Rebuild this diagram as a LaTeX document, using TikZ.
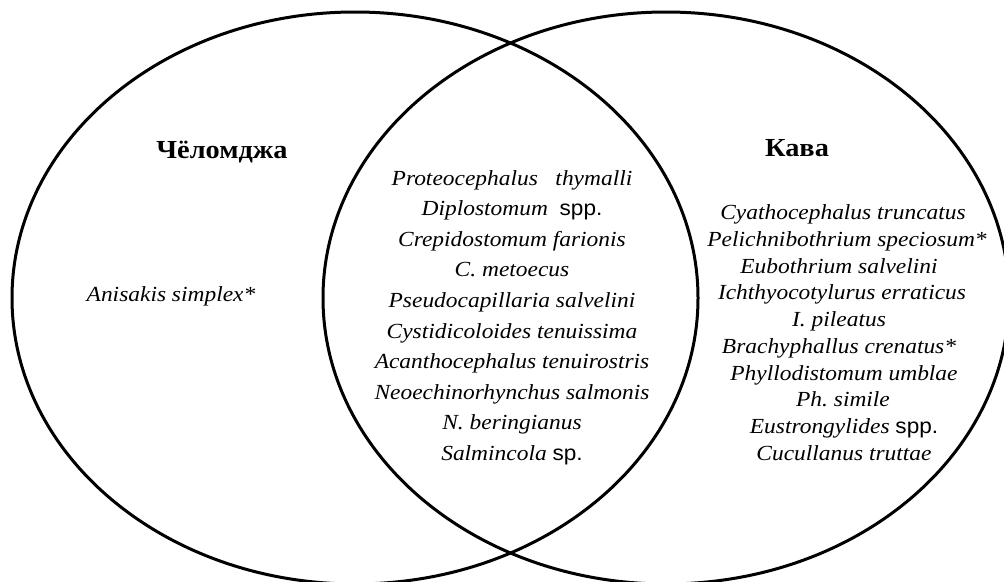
\documentclass[tikz,border=0pt]{standalone}
\usepackage{fontspec}
\setmainfont{Liberation Serif}[FakeStretch=1.09]
\newfontfamily\spfont{Liberation Sans}[FakeStretch=1.05]
\usetikzlibrary{shapes.geometric}
\newcommand{\spp}[1]{{\spfont #1}}
\frenchspacing
\begin{document}
\begin{tikzpicture}[x=1pt,y=-1pt,
  setshape/.style={draw=black, line width=3pt, ellipse, inner sep=0pt,
    minimum width=686pt, minimum height=572pt},
  title/.style={anchor=base, inner sep=0pt, font=\fontsize{26}{30}\selectfont\bfseries},
  species/.style={anchor=base, inner sep=0pt, font=\fontsize{21.5}{24}\selectfont\itshape}]
\useasboundingbox (0,0) rectangle (1004,581);
\fill[white] (0,0) rectangle (1004,581);
\node[setshape] (setL) at (355,298) {};
\node[setshape] (setR) at (666,298) {};
\node[title] (tL) at (222,158.3) {Чёломджа};
\node[title] (tR) at (797,156) {Кава};
\node[species] (a1) at (171,301.7) {Anisakis simplex*};
\foreach \t [count=\i from 0] in {%
  {Proteocephalus\ \ \ thymalli},
  {Diplostomum\ \ \upshape\spp{spp.}},
  {Crepidostomum farionis},
  {C. metoecus},
  {Pseudocapillaria salvelini},
  {Cystidicoloides tenuissima},
  {Acanthocephalus tenuirostris},
  {Neoechinorhynchus salmonis},
  {N. beringianus},
  {Salmincola \upshape\spp{sp.}}}
  \node[species] (m\i) at (512,185+30.6*\i) {\t};
\foreach \t/\xx [count=\i from 0] in {%
  {Cyathocephalus truncatus}/843,
  {Pelichnibothrium speciosum*}/847,
  {Eubothrium salvelini}/839,
  {Ichthyocotylurus erraticus}/842,
  {I. pileatus}/839,
  {Brachyphallus crenatus*}/839,
  {Phyllodistomum umblae}/844,
  {Ph. simile}/843,
  {Eustrongylides \upshape\spp{spp.}}/844,
  {Cucullanus truttae}/844}
  \node[species] (r\i) at (\xx,219.5+26.75*\i) {\t};
\end{tikzpicture}
\end{document}
